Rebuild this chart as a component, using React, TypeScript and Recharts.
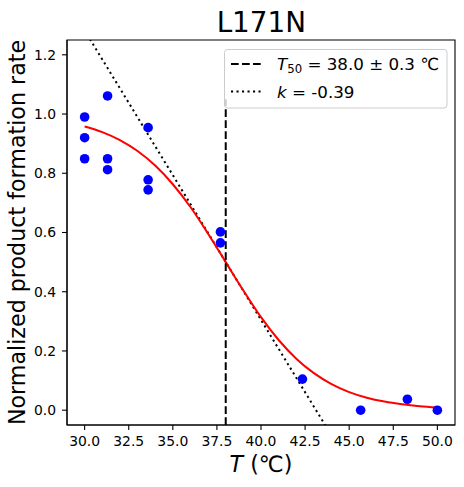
import React from 'react';
import {
  ComposedChart,
  Line,
  Scatter,
  XAxis,
  YAxis,
  ReferenceLine,
  ReferenceArea,
  Label,
} from 'recharts';

// ---- data ----
const measuredT = [30.0, 30.0, 30.0, 31.3, 31.3, 31.3, 33.6, 33.6, 33.6, 37.7, 37.7, 42.35, 45.65, 48.3, 50.0];
const measuredRate = [0.99, 0.92, 0.849, 1.061, 0.849, 0.812, 0.954, 0.778, 0.744, 0.602, 0.565, 0.105, 0.0, 0.037, 0.0];

const fitT = [30, 31, 32, 33, 34, 35, 36, 37, 38, 39, 40, 41, 42, 43, 44, 45, 46, 47, 48, 49, 50];
const fitRate = [0.958, 0.939, 0.912, 0.875, 0.826, 0.763, 0.686, 0.596, 0.5, 0.404, 0.314, 0.237, 0.174, 0.125, 0.088, 0.061, 0.042, 0.029, 0.02, 0.0135, 0.0092];

const tangentT = [29, 51];
const tangentRate = [1.38, -0.77];

const t50 = 38.0;
const t50LineBottom = -0.05;
const t50LineTop = 1.05;

const xTicks = [30, 32.5, 35, 37.5, 40, 42.5, 45, 47.5, 50];
const yTicks = [0, 0.2, 0.4, 0.6, 0.8, 1.0, 1.2];
const xDomain: [number, number] = [29, 51];
const yDomain: [number, number] = [-0.05, 1.25];

const title = 'L171N';
const yLabel = 'Normalized product formation rate';
const xLabelRest = ' (℃)';
const legendT50Text = ' = 38.0 ± 0.3 ℃';
const legendKText = ' = -0.39';

const FONT = '"DejaVu Sans", sans-serif';

const measuredData = measuredT.map((x, i) => ({ x, y: measuredRate[i] }));
const fitData = fitT.map((x, i) => ({ x, y: fitRate[i] }));
const tangentData = tangentT.map((x, i) => ({ x, y: tangentRate[i] }));

const renderXLabel = (props: any) => {
  const vb = props.viewBox || { x: 67, y: 425, width: 388, height: 62 };
  return (
    <text x={vb.x + vb.width / 2} y={vb.y + 47} textAnchor="middle" fontSize={22.2} fontFamily={FONT} fill="#000">
      <tspan fontStyle="italic">T</tspan>
      <tspan>{xLabelRest}</tspan>
    </text>
  );
};

const renderYLabel = (props: any) => {
  const vb = props.viewBox || { x: 0, y: 40, width: 67, height: 385 };
  const cx = 25;
  const cy = vb.y + vb.height / 2;
  return (
    <text
      x={cx}
      y={cy}
      textAnchor="middle"
      fontSize={22.2}
      fontFamily={FONT}
      fill="#000"
      transform={`rotate(-90 ${cx} ${cy})`}
    >
      {yLabel}
    </text>
  );
};

const Dot = (p: any) => <circle cx={p.cx} cy={p.cy} r={4.8} fill="#0000ff" />;

export default function App() {
  return (
    <div
      style={{
        position: 'absolute',
        left: 0,
        top: 0,
        width: 464,
        height: 487,
        background: '#fff',
        fontFamily: FONT,
      }}
    >
      <ComposedChart width={464} height={487} margin={{ top: 40, right: 9, bottom: 0, left: 0 }}>
        <XAxis
          type="number"
          dataKey="x"
          domain={xDomain}
          ticks={xTicks}
          interval={0}
          allowDataOverflow
          tickFormatter={(v: number) => v.toFixed(1)}
          height={62}
          tickSize={5}
          tickMargin={6}
          axisLine={{ stroke: '#000', strokeWidth: 1.1 }}
          tickLine={{ stroke: '#000', strokeWidth: 1.1 }}
          tick={{ fill: '#000', fontSize: 13.9, fontFamily: FONT }}
        >
          <Label content={renderXLabel} />
        </XAxis>
        <YAxis
          type="number"
          dataKey="y"
          domain={yDomain}
          ticks={yTicks}
          interval={0}
          allowDataOverflow
          tickFormatter={(v: number) => v.toFixed(1)}
          width={67}
          tickSize={5}
          tickMargin={6}
          axisLine={{ stroke: '#000', strokeWidth: 1.1 }}
          tickLine={{ stroke: '#000', strokeWidth: 1.1 }}
          tick={{ fill: '#000', fontSize: 13.9, fontFamily: FONT }}
        >
          <Label content={renderYLabel} />
        </YAxis>
        <ReferenceArea
          x1={xDomain[0]}
          x2={xDomain[1]}
          y1={yDomain[0]}
          y2={yDomain[1]}
          fill="none"
          fillOpacity={0}
          stroke="#000"
          strokeWidth={1.1}
        />
        <Line
          data={tangentData}
          dataKey="y"
          type="linear"
          stroke="#000"
          strokeWidth={2}
          strokeDasharray="2.1 3.4"
          dot={false}
          activeDot={false}
          isAnimationActive={false}
        />
        <Line
          data={fitData}
          dataKey="y"
          type="monotone"
          stroke="#ff0000"
          strokeWidth={2}
          dot={false}
          activeDot={false}
          isAnimationActive={false}
        />
        <ReferenceLine
          segment={[
            { x: t50, y: t50LineBottom },
            { x: t50, y: t50LineTop },
          ]}
          stroke="#000"
          strokeWidth={2}
          strokeDasharray="7.7 3.3"
        />
        <Scatter data={measuredData} dataKey="y" fill="#0000ff" shape={Dot} isAnimationActive={false} />
      </ComposedChart>

      <svg
        width={464}
        height={40}
        style={{ position: 'absolute', left: 0, top: 0, pointerEvents: 'none' }}
      >
        <text x={261.3} y={31.5} textAnchor="middle" fontSize={27.8} fontFamily={FONT} fill="#000">
          {title}
        </text>
      </svg>

      <svg
        width={224}
        height={60}
        style={{ position: 'absolute', left: 223.5, top: 48.5, pointerEvents: 'none' }}
      >
        <rect x={0.5} y={0.5} width={222.5} height={58.5} rx={3} ry={3} fill="#fff" fillOpacity={0.8} stroke="#cccccc" strokeWidth={1} />
        <line x1={7} x2={40} y1={15} y2={15} stroke="#000" strokeWidth={2} strokeDasharray="7.7 3.3" />
        <text x={53} y={21} fontSize={16.7} fontFamily={FONT} fill="#000">
          <tspan fontStyle="italic">T</tspan>
          <tspan fontSize={11.7} dy={3}>50</tspan>
          <tspan dy={-3}>{legendT50Text}</tspan>
        </text>
        <line x1={7} x2={40} y1={42.5} y2={42.5} stroke="#000" strokeWidth={2} strokeDasharray="2.1 3.4" />
        <text x={53} y={48.5} fontSize={16.7} fontFamily={FONT} fill="#000">
          <tspan fontStyle="italic">k</tspan>
          <tspan>{legendKText}</tspan>
        </text>
      </svg>
    </div>
  );
}
